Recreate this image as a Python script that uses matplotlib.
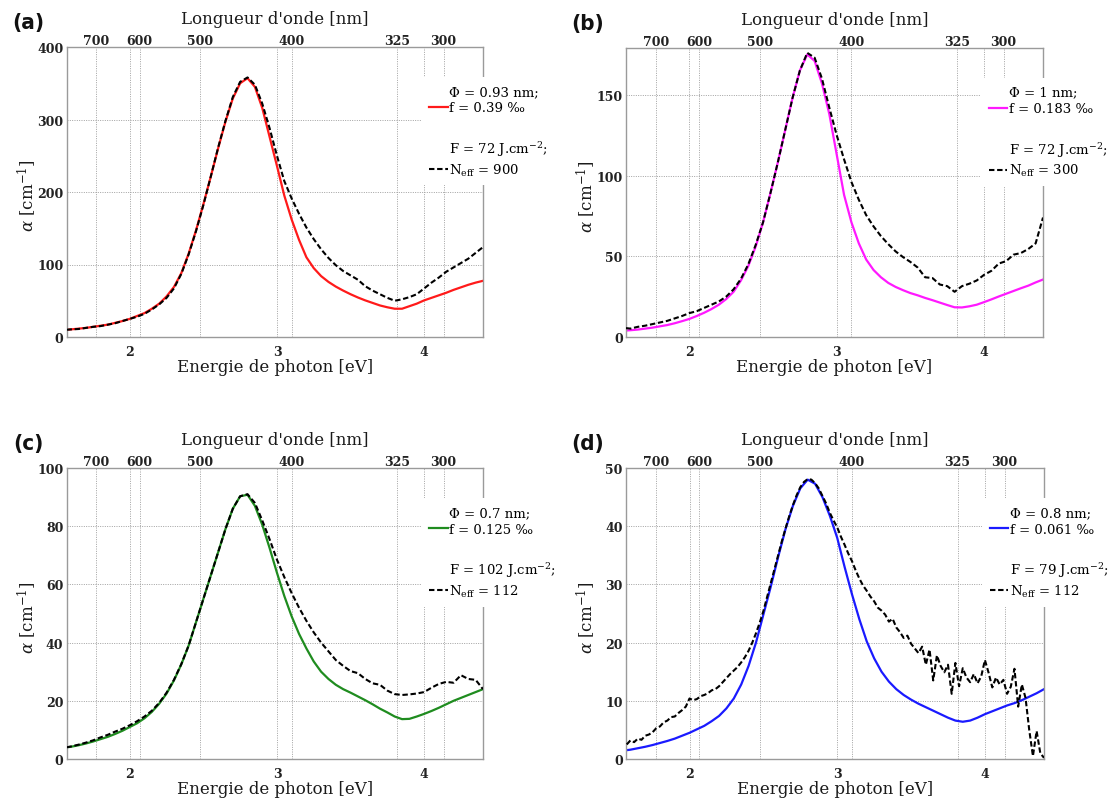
import matplotlib
matplotlib.use("Agg")
import matplotlib.pyplot as plt
from matplotlib.lines import Line2D

# ---------------- data ----------------
HC = 1239.84  # eV*nm

# common energy grid (eV)
E = [1.57, 1.60, 1.65, 1.70, 1.75, 1.80, 1.85, 1.90, 1.95, 2.00,
     2.05, 2.10, 2.15, 2.20, 2.25, 2.30, 2.35, 2.40, 2.45, 2.50,
     2.55, 2.60, 2.65, 2.70, 2.75, 2.80, 2.85, 2.90, 2.95, 3.00,
     3.05, 3.10, 3.15, 3.20, 3.25, 3.30, 3.35, 3.40, 3.45, 3.50,
     3.55, 3.60, 3.65, 3.70, 3.75, 3.80, 3.85, 3.90, 3.95, 4.00,
     4.05, 4.10, 4.15, 4.20, 4.25, 4.30, 4.35, 4.40]

# (a)
fit_a = [10, 10.5, 11.5, 12.5, 14, 15.5, 17, 19.5, 22, 25,
         29, 33, 39, 46, 56, 69, 88, 115, 147, 183,
         221, 260, 297, 329, 350, 357, 345, 316, 276, 236,
         195, 162, 134, 110, 95, 84, 76, 69.5, 64, 59,
         54.5, 50.5, 47, 43.5, 41, 39, 39, 42.5, 46, 50.5,
         54, 57.5, 61, 65, 68.5, 72, 75, 77.5]
meas_a = [10, 10.5, 11, 12.5, 14, 15, 17, 19, 22, 25,
          28, 32, 38, 45, 54, 67, 87, 114, 146, 182,
          221, 261, 298, 331, 352, 358, 348, 322, 288, 250,
          215, 191, 170, 151, 135, 121, 109, 99, 91, 85,
          79, 70, 64, 59, 54, 50, 52, 55, 59, 67,
          75, 82, 90, 96, 102, 108, 116, 124]

# (b)
fit_b = [4, 4.2, 4.6, 5.2, 5.8, 6.6, 7.4, 8.5, 9.8, 11.2,
         13, 15, 17.3, 20, 23.5, 28, 35, 44, 56, 71,
         89, 108, 128, 148, 165, 175, 171, 157, 138, 113,
         88, 71, 58, 48, 41.5, 37, 33.5, 31, 29, 27.2,
         25.8, 24.2, 22.8, 21.3, 19.8, 18.4, 18.3, 19, 20, 21.6,
         23.3, 25.1, 26.8, 28.5, 30.2, 31.8, 33.8, 35.6]
meas_b = [5.5, 5.2, 6.3, 7, 8, 9, 10, 11.5, 13, 14.8,
          16, 18, 20, 22, 25, 29.5, 36, 45, 57, 71,
          89, 108, 128, 148, 165, 176, 173, 160, 142, 125,
          110, 96, 85, 75.5, 68.5, 62.5, 57.5, 53, 49.5, 46.5,
          43, 37, 36.5, 32.5, 31.5, 28, 31.5, 33, 35, 38.5,
          41, 45.5, 47, 51, 52, 54.5, 58, 74]

# (c)
fit_c = [4, 4.2, 4.7, 5.3, 6, 6.8, 7.6, 8.6, 9.7, 11,
         12.3, 14, 16.2, 19, 22.5, 27, 32.5, 39, 47, 55,
         63, 71, 79, 86, 90.3, 90.8, 87, 80.5, 72.5, 64,
         56, 49, 43, 38, 33.5, 30, 27.5, 25.5, 24, 22.8,
         21.5, 20.2, 18.8, 17.3, 16, 14.6, 13.7, 13.8, 14.6, 15.5,
         16.5, 17.6, 18.8, 20, 21, 22, 23, 24]
meas_c = [4, 4.3, 4.9, 5.6, 6.4, 7.4, 8.3, 9.4, 10.4, 11.6,
          13, 14.6, 16.6, 19.3, 22.8, 27.2, 32.6, 39, 47, 55,
          63, 71, 79, 86, 90.3, 91, 88, 82, 75.5, 68.5,
          62.5, 57, 52, 47.5, 43.5, 40, 37, 34, 32, 30.2,
          29.5, 27.5, 26, 25.5, 23.5, 22.3, 22, 22.2, 22.5, 23,
          24.5, 25.8, 26.5, 26.2, 28.8, 27.5, 27.2, 24]

# (d)
fit_d = [1.5, 1.6, 1.85, 2.1, 2.4, 2.75, 3.1, 3.5, 4, 4.5,
         5.1, 5.7, 6.5, 7.4, 8.7, 10.4, 12.8, 16, 20, 24.8,
         29.6, 34.7, 39.5, 43.5, 46.5, 48, 47.3, 45, 41.8, 38,
         33, 28.3, 24, 20.2, 17.3, 15, 13.3, 12, 11, 10.2,
         9.5, 8.9, 8.3, 7.7, 7.1, 6.6, 6.4, 6.6, 7.1, 7.7,
         8.2, 8.7, 9.2, 9.6, 10.1, 10.7, 11.3, 12]

E_d_meas = [1.575, 1.600, 1.625, 1.650, 1.675, 1.700, 1.725, 1.750, 1.775, 1.800,
            1.825, 1.850, 1.875, 1.900, 1.925, 1.950, 1.975, 2.000, 2.025, 2.050,
            2.075, 2.100, 2.125, 2.150, 2.175, 2.200, 2.225, 2.250, 2.275, 2.300,
            2.325, 2.350, 2.375, 2.400, 2.425, 2.450, 2.475, 2.500, 2.525, 2.550,
            2.575, 2.600, 2.625, 2.650, 2.675, 2.700, 2.725, 2.750, 2.775, 2.800,
            2.825, 2.850, 2.875, 2.900, 2.925, 2.950, 2.975, 3.000, 3.025, 3.050,
            3.075, 3.100, 3.125, 3.150, 3.175, 3.200, 3.225, 3.250, 3.275, 3.300,
            3.325, 3.350, 3.375, 3.400, 3.425, 3.450, 3.475, 3.500, 3.525, 3.550,
            3.575, 3.600, 3.625, 3.650, 3.675, 3.700, 3.725, 3.750, 3.775, 3.800,
            3.825, 3.850, 3.875, 3.900, 3.925, 3.950, 3.975, 4.000, 4.025, 4.050,
            4.075, 4.100, 4.125, 4.150, 4.175, 4.200, 4.225, 4.250, 4.275, 4.300,
            4.325, 4.350, 4.375, 4.400]
meas_d = [2.5, 3.2, 2.9, 3.5, 3.3, 4.0, 4.2, 4.6, 5.3, 5.6,
          6.3, 6.6, 7.2, 7.3, 7.9, 8.4, 9.0, 10.4, 10.1, 10.3,
          10.8, 11.0, 11.3, 11.8, 12.0, 12.5, 13.2, 13.9, 14.6, 15.2,
          15.8, 16.6, 17.5, 18.6, 20.0, 21.6, 23.4, 25.4, 27.8, 30.2,
          32.6, 35.0, 37.4, 39.6, 41.7, 43.6, 45.3, 46.7, 47.6, 48.1,
          48.0, 47.4, 46.5, 45.2, 43.9, 42.3, 41.0, 39.8, 38.2, 36.8,
          35.3, 34.0, 32.4, 31.0, 29.8, 28.9, 27.9, 27.1, 26.0, 25.5,
          24.8, 23.6, 24.1, 22.6, 21.8, 20.8, 21.2, 19.8, 19.0, 18.2,
          19.3, 16.2, 18.8, 13.5, 17.8, 16.0, 14.9, 16.2, 11.2, 16.5,
          12.5, 15.6, 14.0, 13.2, 14.6, 13.0, 14.2, 17.0, 14.8, 12.3,
          14.0, 12.8, 13.6, 11.2, 12.4, 15.5, 9.0, 12.8, 10.5, 5.0,
          0.5, 4.8, 1.0, 0.2]

panel_letters = ["(a)", "(b)", "(c)", "(d)"]
fit_colors = ["#ff1a1a", "#ff19ff", "#1f8c1f", "#1a1aff"]
y_max = [400, 179, 100, 50]
y_ticks = [[0, 100, 200, 300, 400], [0, 50, 100, 150],
           [0, 20, 40, 60, 80, 100], [0, 10, 20, 30, 40, 50]]
phi_labels = ["Φ = 0.93 nm;", "Φ = 1 nm;", "Φ = 0.7 nm;", "Φ = 0.8 nm;"]
f_labels = ["f = 0.39 ‰", "f = 0.183 ‰", "f = 0.125 ‰", "f = 0.061 ‰"]
F_labels = ["F = 72 J.cm$^{-2}$;", "F = 72 J.cm$^{-2}$;",
            "F = 102 J.cm$^{-2}$;", "F = 79 J.cm$^{-2}$;"]
N_labels = ["N$_{\\rm eff}$ = 900", "N$_{\\rm eff}$ = 300",
            "N$_{\\rm eff}$ = 112", "N$_{\\rm eff}$ = 112"]
E_ticks = [2, 3, 4]
wl_ticks = [700, 600, 500, 400, 325, 300]
x_range = (1.57, 4.40)

fits = [fit_a, fit_b, fit_c, fit_d]
meas = [meas_a, meas_b, meas_c, meas_d]
meas_E = [E, E, E, E_d_meas]

# ---------------- style ----------------
plt.rcParams["font.family"] = ["DejaVu Serif"]
plt.rcParams["mathtext.fontset"] = "dejavuserif"

fig = plt.figure(figsize=(11.09, 8.03), dpi=100)
W, H = 1109.0, 803.0
# pixel boxes (left, top, right, bottom)
boxes = [(66.5, 48, 483, 338), (626, 49, 1043, 338),
         (66.5, 469, 483, 760), (626, 469, 1044, 760)]

spine_col = "#9a9a9a"
grid_kw = dict(color="#a0a0a0", linestyle=(0, (1, 1.4)), linewidth=0.7)
tick_size = 9

for i in range(4):
    l, t, r, b = boxes[i]
    ax = fig.add_axes([l / W, 1 - b / H, (r - l) / W, (b - t) / H])
    fit_line, = ax.plot(E, fits[i], color=fit_colors[i], lw=1.6, zorder=2)
    meas_line, = ax.plot(meas_E[i], meas[i], color="black", lw=1.5,
                         dashes=(2.6, 1.3), zorder=3)
    ax.set_xlim(*x_range)
    ax.set_ylim(0, y_max[i])
    ax.set_xticks(E_ticks)
    ax.set_xticklabels([str(v) for v in E_ticks])
    wl_E = [HC / w for w in wl_ticks]
    ax.set_xticks(wl_E, minor=True)
    ax.set_yticks(y_ticks[i])
    ax.tick_params(axis="both", which="both", length=0, labelsize=tick_size)
    ax.tick_params(axis="x", pad=5.5)
    ax.tick_params(axis="y", pad=2.3)
    for lab in ax.get_xticklabels() + ax.get_yticklabels():
        lab.set_fontweight("bold")
        lab.set_color("#222222")
    ax.grid(True, which="both", **grid_kw)
    ax.set_axisbelow(True)
    for s in ax.spines.values():
        s.set_color(spine_col)
        s.set_linewidth(1.0)

    ax.set_xlabel("Energie de photon [eV]", fontsize=12, va="center", color="#1a1a1a")
    ax.xaxis.set_label_coords(0.5, -0.102)
    ax.set_ylabel("$\\alpha$ [cm$^{-1}$]", fontsize=12, va="center", color="#1a1a1a")
    ax.yaxis.set_label_coords(-0.094, 0.49)

    # top wavelength axis
    ax2 = ax.twiny()
    ax2.set_xlim(*x_range)
    ax2.set_xticks(wl_E)
    ax2.set_xticklabels([str(w) for w in wl_ticks])
    ax2.tick_params(axis="x", length=0, pad=0.0, labelsize=tick_size)
    for lab in ax2.get_xticklabels():
        lab.set_fontweight("bold")
        lab.set_color("#222222")
    for s in ax2.spines.values():
        s.set_visible(False)
    ax2.set_xlabel("Longueur d'onde [nm]", fontsize=12, va="center", color="#1a1a1a")
    ax2.xaxis.set_label_coords(0.5, 1.097)

    # panel letter
    ax.text(-0.092, 1.086, panel_letters[i], transform=ax.transAxes,
            fontsize=16, fontweight="bold", family="DejaVu Sans",
            fontstretch="condensed", ha="center", va="center", color="#111111")

    # legend
    blank = Line2D([], [], color="none")
    leg = ax.legend([blank, fit_line, blank, blank, meas_line],
                    [phi_labels[i], f_labels[i], " ", F_labels[i], N_labels[i]],
                    loc="upper left", bbox_to_anchor=(0.8515, 0.897),
                    borderaxespad=0, fontsize=9.5, handlelength=1.4,
                    handletextpad=0.1, labelspacing=0.28, borderpad=0.6,
                    frameon=True, fancybox=False, framealpha=1.0,
                    facecolor="white", edgecolor="none")
    leg.get_texts()[2].set_fontsize(12)
    leg.set_zorder(5)

fig.savefig("out.png", dpi=100)
